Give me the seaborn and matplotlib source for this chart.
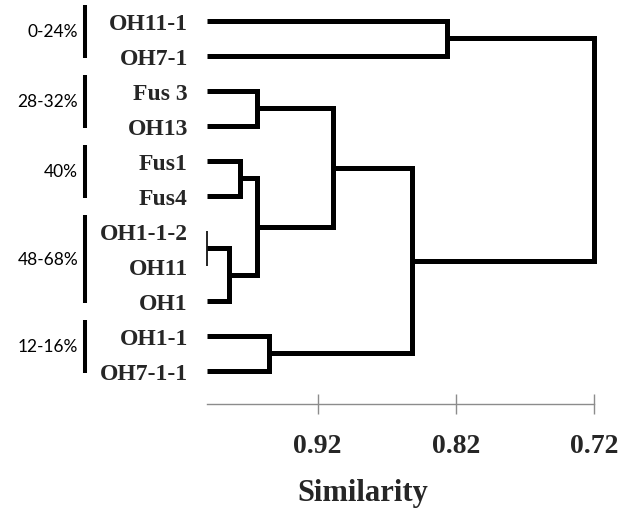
# Dendrogram of isolates by similarity, with percentage groups on the left.

import pandas as pd
import matplotlib
matplotlib.use('Agg')
import matplotlib.pyplot as plt
import matplotlib.transforms as mtransforms
import seaborn as sns

# Leaf order, top to bottom.
leaves = ['OH11-1', 'OH7-1', 'Fus 3', 'OH13', 'Fus1', 'Fus4',
          'OH1-1-2', 'OH11', 'OH1', 'OH1-1', 'OH7-1-1']

# Merges (linkage style): new cluster ids start at len(leaves).
merge_left = [0, 2, 4, 6, 14, 13, 12, 9, 17, 11]
merge_right = [1, 3, 5, 7, 8, 15, 16, 10, 18, 19]
merge_sim = [0.826, 0.964, 0.976, 1.0, 0.984, 0.964, 0.909, 0.955, 0.852, 0.72]

# Groups bracketed on the far left.
group_labels = ['0-24%', '28-32%', '40%', '48-68%', '12-16%']
group_first = [0, 2, 4, 6, 9]
group_last = [1, 3, 5, 8, 10]

x_ticks = [0.92, 0.82, 0.72]

# Build the link segments.
n = len(leaves)
pos = {i: float(i) for i in range(n)}
height = {i: 1.0 for i in range(n)}
rows = []
for k, (a, b, s) in enumerate(zip(merge_left, merge_right, merge_sim)):
    xs = [height[a], s, s, height[b]]
    ys = [pos[a], pos[a], pos[b], pos[b]]
    for x, y in zip(xs, ys):
        rows.append({'link': k, 'sim': x, 'pos': y, 'thin': s >= 1.0})
    pos[n + k] = (pos[a] + pos[b]) / 2
    height[n + k] = s
links = pd.DataFrame(rows)

# Plot.
sns.set_style('white')
plt.rcParams['font.family'] = ['Liberation Serif', 'DejaVu Serif']

fig = plt.figure(figsize=(6.31, 5.10), dpi=100)
ax = fig.add_axes([0.328, 0.2059, 0.6133, 0.7853])

line_kw = dict(x='sim', y='pos', units='link', estimator=None, sort=False,
               color='black', solid_joinstyle='miter', solid_capstyle='butt',
               clip_on=False, ax=ax)
sns.lineplot(data=links[~links['thin']], linewidth=3.6, **line_kw)
sns.lineplot(data=links[links['thin']], linewidth=1.2, **line_kw)

ax.set_xlim(1.0, 0.72)
ax.set_ylim(10.943, -0.5)

for side in ['top', 'left', 'right']:
    ax.spines[side].set_visible(False)
ax.spines['bottom'].set_color('#8c8c8c')
ax.spines['bottom'].set_linewidth(1.0)

ax.set_xticks(x_ticks)
ax.set_xticklabels([f'{t:.2f}' for t in x_ticks], fontsize=20, fontweight='bold')
ax.tick_params(axis='x', direction='inout', length=14, width=1,
               color='#8c8c8c', pad=14, bottom=True)

ax.set_yticks(range(n))
ax.set_yticklabels(leaves, fontsize=17, fontweight='bold')
ax.tick_params(axis='y', length=0, pad=13.7, left=True)

ax.set_xlabel('Similarity', fontsize=22, fontweight='bold')
ax.xaxis.set_label_coords(0.403, -0.185)
ax.set_ylabel('')

# Group brackets and labels.
trans = mtransforms.blended_transform_factory(ax.transAxes, ax.transData)
for label, first, last in zip(group_labels, group_first, group_last):
    top, bottom = first - 0.45, last + 0.05
    ax.plot([-0.3152, -0.3152], [top, bottom], color='black', linewidth=2.9,
            solid_capstyle='butt', transform=trans, clip_on=False)
    ax.text(-0.333, (top + bottom) / 2, label, transform=trans,
            ha='right', va='center', fontsize=12.5, family=['Lato', 'DejaVu Sans'],
            color='black')

fig.savefig('out.png', dpi=100)
